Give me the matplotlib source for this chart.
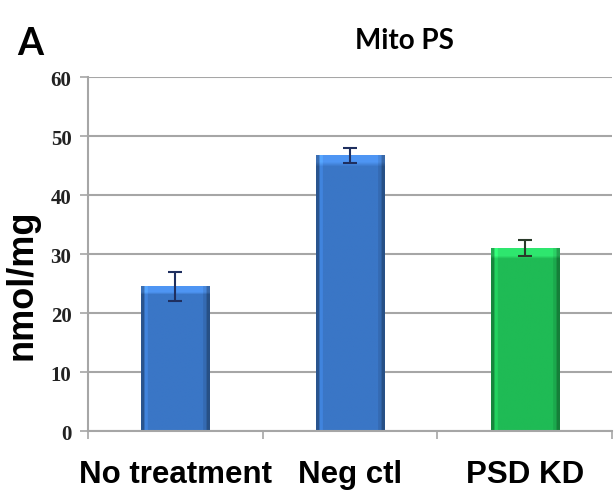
import numpy as np
import matplotlib
matplotlib.use("Agg")
import matplotlib.pyplot as plt
from matplotlib.colors import to_rgb

# Mitochondrial PS content per condition
categories = ["No treatment", "Neg ctl", "PSD KD"]
values = [24.5, 46.7, 31.0]
errors = [2.4, 1.2, 1.4]
bar_colors = ["#3a76c6", "#3a76c6", "#1fbb55"]
err_colors = ["#1f2f5f", "#1f2f5f", "#2a3a2a"]
yticks = [0, 10, 20, 30, 40, 50, 60]

fig = plt.figure(figsize=(6.16, 5.02), dpi=100)
ax = fig.add_axes([0.143, 0.1394, 0.8505, 0.7052])

x = np.arange(1, len(categories) + 1)
bars = ax.bar(x, values, width=0.39, color=bar_colors, zorder=2,
              edgecolor="none")


def bevel_image(color, n=60, m=60):
    """Shaded RGB array giving a bar a raised, bevelled look."""
    base = np.array(to_rgb(color))
    u = np.linspace(0, 1, n)
    # horizontal profile: dark rim, light inner edge, flat body
    h = np.ones(n)
    h = np.where(u < 0.04, 0.72, h)
    h = np.where((u >= 0.04) & (u < 0.10), 1.12, h)
    h = np.where(u > 0.96, 0.68, h)
    h = np.where((u <= 0.96) & (u > 0.90), 0.90, h)
    img = np.clip(base[None, None, :] * h[None, :, None] * np.ones((m, 1, 1)), 0, 1)
    return img


for rect, col in zip(bars, bar_colors):
    x0, w, hgt = rect.get_x(), rect.get_width(), rect.get_height()
    img = bevel_image(col)
    # lighter top band
    top_rows = max(1, int(round(60 * 1.3 / hgt)))
    img[:top_rows] = np.clip(img[:top_rows] * 1.18 + 0.04, 0, 1)
    im = ax.imshow(img, extent=[x0, x0 + w, 0, hgt], origin="upper",
                   aspect="auto", zorder=2.5, interpolation="bilinear")
    im.set_clip_path(rect)

for xi, v, e, c in zip(x, values, errors, err_colors):
    ax.errorbar(xi, v, yerr=e, fmt="none", ecolor=c, elinewidth=1.5,
                capsize=5, capthick=1.5, zorder=4)

ax.set_xlim(0.5, 3.5)
ax.set_ylim(0, 60)
ax.set_yticks(yticks)
ax.set_yticklabels([str(t) for t in yticks], family="Liberation Serif",
                   fontweight="bold", fontsize=15, color="#222222")
ax.yaxis.grid(True, color="#a6a6a6", linewidth=1.5, zorder=0)
ax.set_axisbelow(True)

ax.set_xticks([1.5, 2.5, 3.5, 0.5], minor=False)
ax.set_xticklabels([])
ax.set_xticks(x, minor=True)
ax.set_xticklabels(categories, minor=True, family="Liberation Sans",
                   fontweight="bold", fontsize=22.5)
ax.tick_params(axis="x", which="minor", length=0, pad=20)
ax.tick_params(axis="x", which="major", length=6, width=1.2, color="#a6a6a6",
               direction="out")
ax.tick_params(axis="y", length=6, width=1.2, color="#a6a6a6", pad=6)

for s in ["top", "right"]:
    ax.spines[s].set_visible(False)
for s in ["left", "bottom"]:
    ax.spines[s].set_color("#a6a6a6")
    ax.spines[s].set_linewidth(1.5)

ax.set_ylabel("nmol/mg", family="Liberation Sans", fontweight="bold",
              fontsize=26)
ax.yaxis.set_label_coords(-0.092, 0.415)

fig.text(0.657, 0.918, "Mito PS", ha="center", va="center",
         family="Lato", fontweight="bold", fontsize=20)
fig.text(0.049, 0.912, "A", ha="center", va="center",
         family="Lato", fontweight="bold", fontsize=27)

fig.savefig("out.png", dpi=100)
